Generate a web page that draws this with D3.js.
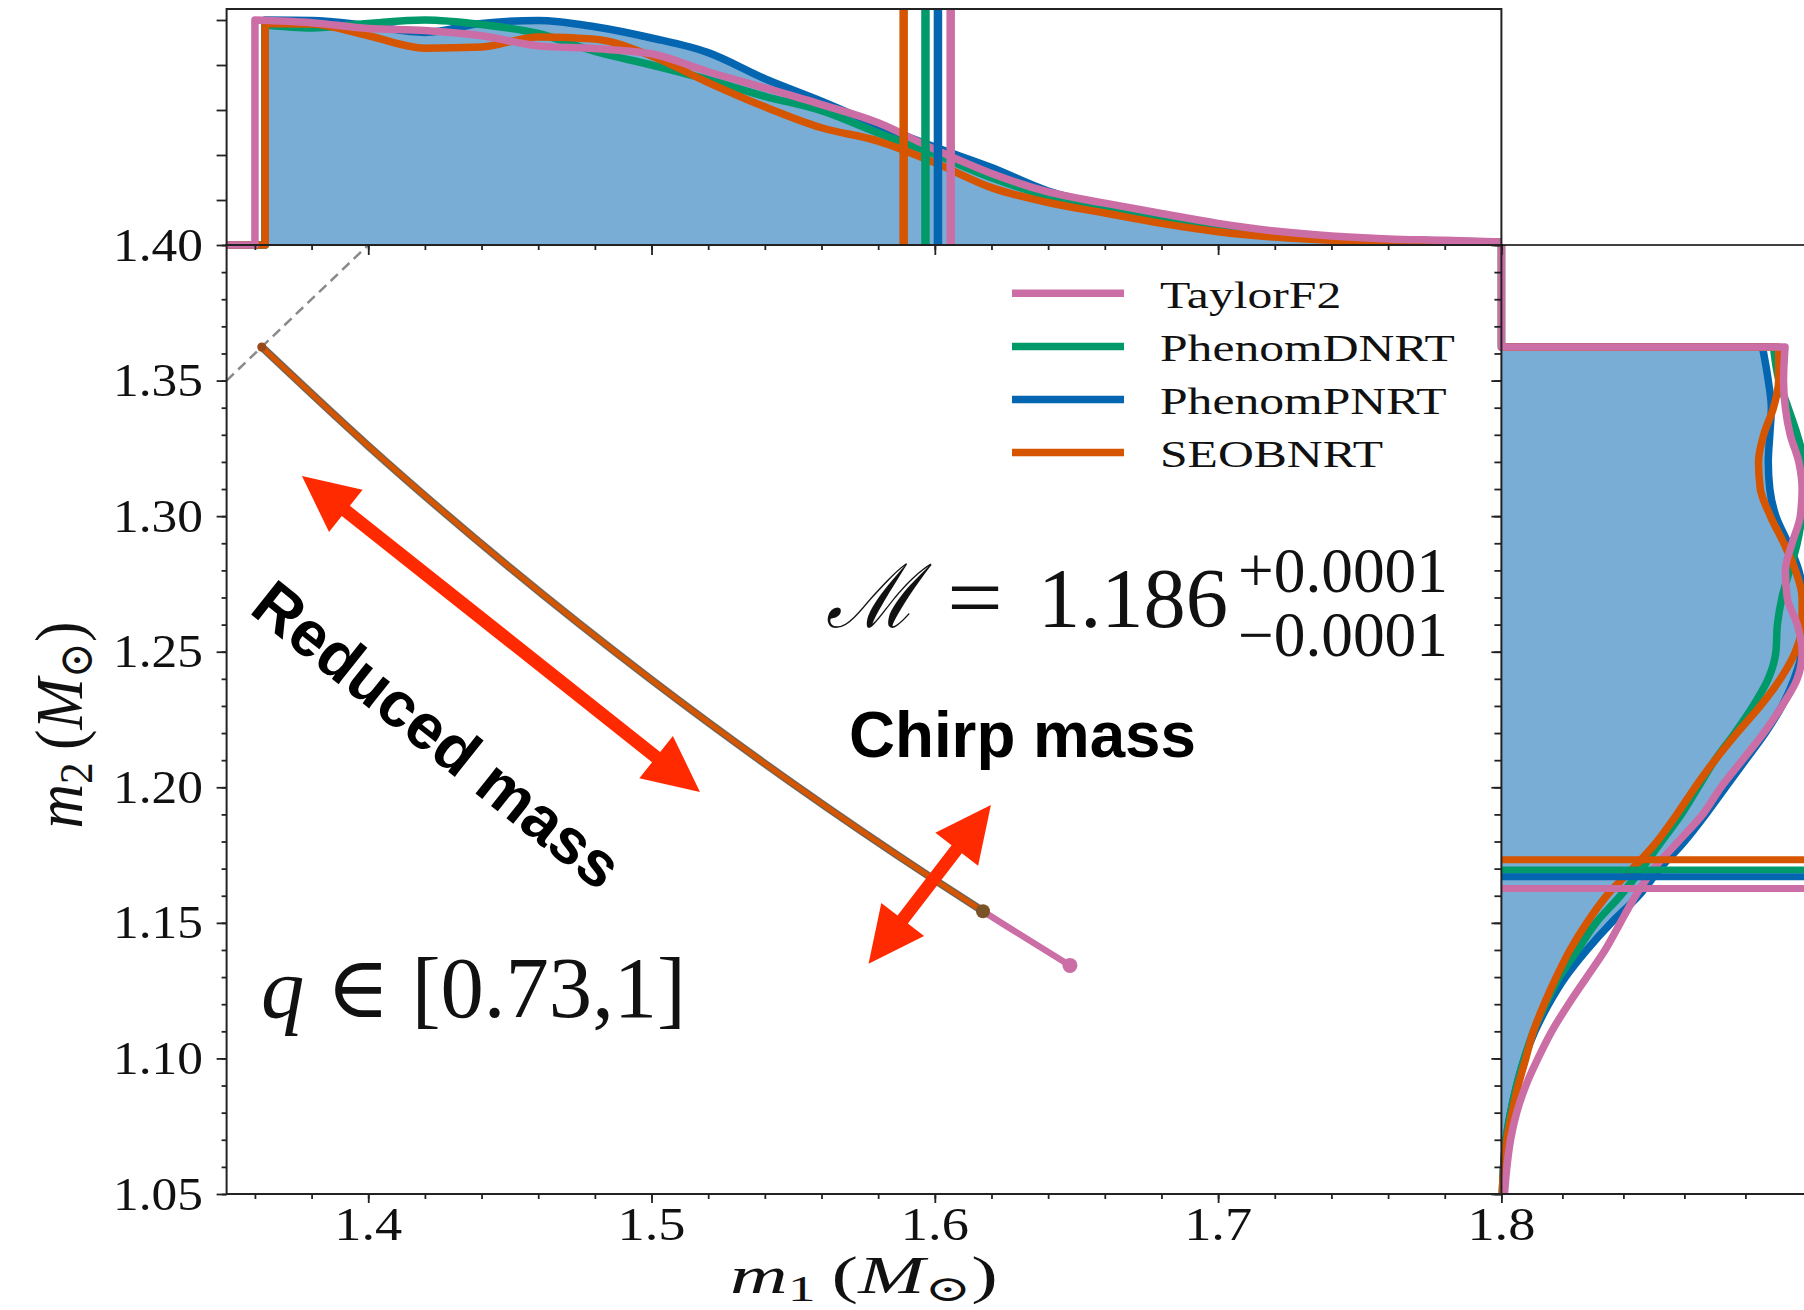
<!DOCTYPE html>
<html>
<head>
<meta charset="utf-8">
<script src="https://cdn.jsdelivr.net/npm/d3@7"></script>
<style>
  body { margin: 0; background: #fff; }
  svg { display: block; }
  .serif { font-family: "Liberation Serif", "DejaVu Serif", serif; fill: #111; }
  .sans { font-family: "Liberation Sans", Arial, sans-serif; font-weight: bold; fill: #000; }
</style>
</head>
<body>
<svg id="fig" width="1804" height="1310"></svg>
<script>
// waveform models, in legend order
var models = ["TaylorF2", "PhenomDNRT", "PhenomPNRT", "SEOBNRT"];
var modelColors = ["#cc6ea6", "#009a6a", "#0466b0", "#d55500"];

// tick labels
var xTicks = [1.4, 1.5, 1.6, 1.7, 1.8];
var yTicks = [1.05, 1.10, 1.15, 1.20, 1.25, 1.30, 1.35, 1.40];

// constant chirp mass track (m1, m2)
var trackM1 = [1.3624, 1.40, 1.45, 1.50, 1.55, 1.60, 1.617, 1.6477];
var trackM2 = [1.3624, 1.3259, 1.2810, 1.2396, 1.2013, 1.1658, 1.1543, 1.1343];
var trackEnd = [1.6477, 1.617, 1.617, 1.617];   // last m1 per model

// 90% bounds per model (m1 upper, m2 lower)
var m1Upper = [1.6056, 1.5967, 1.6011, 1.5890];
var m2Lower = [1.1627, 1.1695, 1.1670, 1.1733];

// marginal of m1 (top panel), normalised
var m1StepAt = [1.3600, 1.3636, 1.3636, 1.3636];
var m1StepTop = [1.000, 0.978, 1.000, 0.985];
var m1Grid = [1.38, 1.40, 1.42, 1.44, 1.46, 1.48, 1.50, 1.52, 1.54, 1.56, 1.58,
              1.60, 1.62, 1.64, 1.66, 1.68, 1.70, 1.72, 1.74, 1.76, 1.78, 1.80];
var m1DensTaylorF2 = [0.988, 0.962, 0.953, 0.930, 0.885, 0.873, 0.850, 0.770, 0.698, 0.624, 0.543,
                      0.425, 0.318, 0.236, 0.186, 0.140, 0.096, 0.062, 0.040, 0.027, 0.021, 0.013];
var m1DensPhenomD = [0.965, 0.985, 1.000, 0.980, 0.940, 0.860, 0.800, 0.735, 0.661, 0.597, 0.498,
                     0.403, 0.299, 0.218, 0.174, 0.122, 0.075, 0.047, 0.025, 0.018, 0.013, 0.012];
var m1DensPhenomP = [0.998, 0.975, 0.945, 0.985, 0.998, 0.970, 0.920, 0.855, 0.739, 0.639, 0.532,
                     0.435, 0.344, 0.240, 0.177, 0.128, 0.081, 0.052, 0.031, 0.022, 0.018, 0.012];
var m1DensSEOB = [0.982, 0.930, 0.875, 0.880, 0.925, 0.915, 0.840, 0.722, 0.614, 0.521, 0.462,
                  0.366, 0.255, 0.189, 0.142, 0.096, 0.059, 0.035, 0.021, 0.015, 0.013, 0.012];

// marginal of m2 (right panel), normalised
var m2StepAt = 1.3624;
var m2StepTop = [0.930, 0.892, 0.856, 0.909];
var m2Grid = [1.35, 1.34, 1.33, 1.32, 1.31, 1.30, 1.29, 1.28, 1.27, 1.26, 1.25, 1.24, 1.23, 1.22, 1.21, 1.20,
              1.19, 1.18, 1.17, 1.16, 1.15, 1.14, 1.13, 1.12, 1.11, 1.10, 1.09, 1.08, 1.07, 1.06, 1.05];
var m2DensTaylorF2 = [0.925, 0.931, 0.947, 0.975, 0.986, 0.980, 0.953, 0.931, 0.937, 0.970, 0.986, 0.970, 0.920, 0.860, 0.790, 0.720,
                      0.660, 0.580, 0.500, 0.440, 0.390, 0.340, 0.280, 0.220, 0.165, 0.120, 0.080, 0.050, 0.030, 0.018, 0.010];
var m2DensPhenomD = [0.910, 0.940, 0.970, 0.990, 0.990, 0.985, 0.970, 0.945, 0.920, 0.905, 0.900, 0.875, 0.825, 0.765, 0.700, 0.645,
                     0.590, 0.525, 0.460, 0.390, 0.310, 0.250, 0.190, 0.145, 0.105, 0.075, 0.050, 0.030, 0.015, 0.007, 0.003];
var m2DensPhenomP = [0.875, 0.885, 0.880, 0.875, 0.880, 0.900, 0.940, 0.975, 0.990, 0.990, 0.985, 0.960, 0.920, 0.865, 0.800, 0.735,
                     0.670, 0.600, 0.520, 0.450, 0.360, 0.280, 0.210, 0.155, 0.110, 0.075, 0.050, 0.030, 0.015, 0.007, 0.003];
var m2DensSEOB = [0.909, 0.892, 0.860, 0.843, 0.849, 0.882, 0.926, 0.964, 0.986, 0.986, 0.964, 0.915, 0.849, 0.772, 0.700, 0.635,
                  0.575, 0.510, 0.430, 0.345, 0.280, 0.225, 0.180, 0.140, 0.105, 0.080, 0.055, 0.035, 0.018, 0.008, 0.003];

var m1Dens = [m1DensTaylorF2, m1DensPhenomD, m1DensPhenomP, m1DensSEOB];
var m2Dens = [m2DensTaylorF2, m2DensPhenomD, m2DensPhenomP, m2DensSEOB];

// annotation arrows, ends in (m1, m2)
var reducedArrow = [[1.3766, 1.3148], [1.5171, 1.1983]];
var chirpArrow = [[1.5766, 1.1349], [1.6198, 1.1935]];

// layout
var plotL = 226.6, plotR = 1501.4, plotT = 245, plotB = 1194, topT = 9, sideR = 1804;
var fillColor = "#7aadd5", arrowRed = "#ff2a00", axisColor = "#222";

var x = d3.scaleLinear().domain([1.35, 1.80]).range([plotL, plotR]);
var y = d3.scaleLinear().domain([1.05, 1.40]).range([plotB, plotT]);
var dTop = d3.scaleLinear().domain([0, 1]).range([plotT, 20]);
var dSide = d3.scaleLinear().domain([0, 1]).range([plotR, plotR + 305]);

var svg = d3.select("#fig");

svg.append("defs").call(function(defs) {
  defs.append("clipPath").attr("id", "clipTop").append("rect")
    .attr("x", plotL).attr("y", 0).attr("width", plotR - plotL).attr("height", plotT + 4);
  defs.append("clipPath").attr("id", "clipSide").append("rect")
    .attr("x", plotR - 4).attr("y", plotT).attr("width", sideR - plotR + 4).attr("height", plotB - plotT);
});

// stretch a text so that it spans the given width
function fitWidth(sel, target) {
  var w = sel.node().getComputedTextLength();
  return target / w;
}

// ---------- top panel: m1 marginals ----------
var gTop = svg.append("g").attr("clip-path", "url(#clipTop)");
var topSmooth = d3.line().x(function(d) { return x(d[0]); }).y(function(d) { return dTop(d[1]); })
    .curve(d3.curveMonotoneX);

function topPath(i) {
  var pts = [[m1StepAt[i], m1StepTop[i]]].concat(m1Grid.map(function(m, k) { return [m, m1Dens[i][k]]; }));
  var head = "M" + x(1.35) + "," + dTop(0) + "L" + x(m1StepAt[i]) + "," + dTop(0);
  return { line: head + topSmooth(pts).replace(/^M/, "L"), pts: pts };
}

// filled area under PhenomPNRT
var fillTop = topPath(2);
gTop.append("path")
  .attr("d", "M" + x(m1StepAt[2]) + "," + dTop(0) + topSmooth(fillTop.pts).replace(/^M/, "L") +
        "L" + x(1.80) + "," + dTop(0) + "Z")
  .attr("fill", fillColor);

[2, 1, 3, 0].forEach(function(i) {
  gTop.append("path").attr("d", topPath(i).line)
    .attr("fill", "none").attr("stroke", modelColors[i]).attr("stroke-width", 7.5)
    .attr("stroke-linejoin", "round");
});
[3, 1, 2, 0].forEach(function(i) {
  gTop.append("line")
    .attr("x1", x(m1Upper[i])).attr("x2", x(m1Upper[i]))
    .attr("y1", topT).attr("y2", plotT)
    .attr("stroke", modelColors[i]).attr("stroke-width", 8.5);
});

// ---------- right panel: m2 marginals ----------
var gSide = svg.append("g").attr("clip-path", "url(#clipSide)");
var sideSmooth = d3.line().x(function(d) { return dSide(d[1]); }).y(function(d) { return y(d[0]); })
    .curve(d3.curveMonotoneY);

function sidePts(i) {
  return [[m2StepAt, m2StepTop[i]]].concat(m2Grid.map(function(m, k) { return [m, m2Dens[i][k]]; }));
}
gSide.append("path")
  .attr("d", "M" + dSide(0) + "," + y(m2StepAt) + sideSmooth(sidePts(2)).replace(/^M/, "L") +
        "L" + dSide(0) + "," + y(1.05) + "Z")
  .attr("fill", fillColor);

[2, 1, 3, 0].forEach(function(i) {
  var head = "M" + dSide(0) + "," + y(1.40) + "L" + dSide(0) + "," + y(m2StepAt);
  gSide.append("path").attr("d", head + sideSmooth(sidePts(i)).replace(/^M/, "L"))
    .attr("fill", "none").attr("stroke", modelColors[i]).attr("stroke-width", 7.5)
    .attr("stroke-linejoin", "round");
});
[3, 1, 2, 0].forEach(function(i) {
  gSide.append("line")
    .attr("x1", plotR).attr("x2", sideR)
    .attr("y1", y(m2Lower[i])).attr("y2", y(m2Lower[i]))
    .attr("stroke", modelColors[i]).attr("stroke-width", 7);
});

// ---------- main panel ----------
// equal mass line
svg.append("line")
  .attr("x1", x(1.35)).attr("y1", y(1.35)).attr("x2", x(1.40)).attr("y2", y(1.40))
  .attr("stroke", "#8a8a8a").attr("stroke-width", 2.5).attr("stroke-dasharray", "10,6");

var trackPts = trackM1.map(function(m, k) { return [m, trackM2[k]]; });
var trackLine = d3.line().x(function(d) { return x(d[0]); }).y(function(d) { return y(d[1]); })
    .curve(d3.curveMonotoneX);
function trackUpTo(end) { return trackPts.filter(function(d) { return d[0] <= end + 1e-9; }); }

svg.append("path").attr("d", trackLine(trackUpTo(trackEnd[0])))
  .attr("fill", "none").attr("stroke", modelColors[0]).attr("stroke-width", 6.5);
svg.append("path").attr("d", trackLine(trackUpTo(trackEnd[3])))
  .attr("fill", "none").attr("stroke", "#5b4a36").attr("stroke-width", 8).attr("stroke-opacity", 0.75);
[1, 2, 3].forEach(function(i) {
  svg.append("path").attr("d", trackLine(trackUpTo(trackEnd[i])))
    .attr("fill", "none").attr("stroke", modelColors[i]).attr("stroke-width", 5.5);
});
svg.append("circle").attr("cx", x(trackEnd[0])).attr("cy", y(trackM2[trackM2.length - 1]))
  .attr("r", 7.5).attr("fill", modelColors[0]);
svg.append("circle").attr("cx", x(trackEnd[3])).attr("cy", y(trackM2[trackM2.length - 2]))
  .attr("r", 7).attr("fill", "#7a5426");
svg.append("circle").attr("cx", x(trackM1[0])).attr("cy", y(trackM2[0]))
  .attr("r", 4.5).attr("fill", "#9a4a18");

// ---------- axes ----------
function styleAxis(g) {
  g.select(".domain").remove();
  g.selectAll(".tick line").attr("stroke", axisColor).attr("stroke-width", 1.8);
  g.selectAll(".tick text").remove();
}
function stepTicks(lo, hi, step) {
  return d3.range(Math.round((hi - lo) / step) + 1).map(function(k) { return +(lo + k * step).toFixed(4); });
}
var yMinor = stepTicks(1.05, 1.40, 0.01);
var xMinor = stepTicks(1.36, 1.80, 0.02);

// left (outward)
svg.append("g").attr("transform", "translate(" + plotL + ",0)")
  .call(d3.axisLeft(y).tickValues(yMinor).tickSize(5)).call(styleAxis);
svg.append("g").attr("transform", "translate(" + plotL + ",0)")
  .call(d3.axisLeft(y).tickValues(yTicks).tickSize(10)).call(styleAxis);
// right of main (inward)
svg.append("g").attr("transform", "translate(" + plotR + ",0)")
  .call(d3.axisLeft(y).tickValues(yMinor).tickSize(7)).call(styleAxis);
svg.append("g").attr("transform", "translate(" + plotR + ",0)")
  .call(d3.axisLeft(y).tickValues(yTicks).tickSize(10)).call(styleAxis);
// bottom (outward)
svg.append("g").attr("transform", "translate(0," + plotB + ")")
  .call(d3.axisBottom(x).tickValues(xMinor).tickSize(5)).call(styleAxis);
svg.append("g").attr("transform", "translate(0," + plotB + ")")
  .call(d3.axisBottom(x).tickValues(xTicks).tickSize(9)).call(styleAxis);
// top of main (inward)
svg.append("g").attr("transform", "translate(0," + plotT + ")")
  .call(d3.axisBottom(x).tickValues(xMinor).tickSize(5)).call(styleAxis);
svg.append("g").attr("transform", "translate(0," + plotT + ")")
  .call(d3.axisBottom(x).tickValues(xTicks).tickSize(10)).call(styleAxis);
// density ticks of the marginals
svg.append("g").attr("transform", "translate(" + plotL + ",0)")
  .call(d3.axisLeft(dTop).tickValues([0.2, 0.4, 0.6, 0.8, 1.0]).tickSize(10)).call(styleAxis);
svg.append("g").attr("transform", "translate(0," + plotB + ")")
  .call(d3.axisBottom(dSide).tickValues([0.2, 0.4, 0.6, 0.8, 1.0]).tickSize(5)).call(styleAxis);

// frames
var frame = svg.append("g").attr("fill", "none").attr("stroke", axisColor).attr("stroke-width", 2);
frame.append("path").attr("d", "M" + plotL + "," + plotT + "V" + topT + "H" + plotR + "V" + plotT);
frame.append("rect").attr("x", plotL).attr("y", plotT).attr("width", plotR - plotL).attr("height", plotB - plotT);
frame.append("path").attr("d", "M" + plotR + "," + plotT + "H" + sideR).attr("stroke", "#000").attr("stroke-width", 1.6);
frame.append("path").attr("d", "M" + plotR + "," + plotB + "H" + sideR);

// tick labels
var probeY = svg.append("text").attr("class", "serif").attr("font-size", 46).text("1.40");
var sxY = fitWidth(probeY, 90);
probeY.remove();
svg.selectAll(".ylab").data(yTicks).join("text")
  .attr("class", "serif ylab").attr("font-size", 46).attr("text-anchor", "end")
  .attr("transform", function(d) { return "translate(203," + (y(d) + 15.5) + ") scale(" + sxY + ",1)"; })
  .text(d3.format(".2f"));

var probeX = svg.append("text").attr("class", "serif").attr("font-size", 46).text("1.4");
var sxX = fitWidth(probeX, 68);
probeX.remove();
svg.selectAll(".xlab").data(xTicks).join("text")
  .attr("class", "serif xlab").attr("font-size", 46).attr("text-anchor", "middle")
  .attr("transform", function(d) { return "translate(" + x(d) + ",1240) scale(" + sxX + ",1)"; })
  .text(d3.format(".1f"));

// axis titles
function massLabel(g, idx) {
  g.append("tspan").attr("font-style", "italic").text("m");
  g.append("tspan").attr("font-size", "0.7em").attr("dy", 8).text(idx);
  g.append("tspan").attr("dy", -8).text("\u2009(");
  g.append("tspan").attr("font-style", "italic").text("M");
  g.append("tspan").attr("font-size", "0.7em").attr("dy", 8).text("\u2299");
  g.append("tspan").attr("dy", -8).text(")");
}
var xTitle = svg.append("text").attr("class", "serif").attr("font-size", 52).attr("text-anchor", "middle");
massLabel(xTitle, "1");
xTitle.attr("transform", "translate(" + ((plotL + plotR) / 2) + ",1293) scale(" + fitWidth(xTitle, 268) + ",1)");

var yTitle = svg.append("text").attr("class", "serif").attr("font-size", 52).attr("text-anchor", "middle");
massLabel(yTitle, "2");
yTitle.attr("transform", "translate(82,725) scale(1.3,1) rotate(-90) scale(" + fitWidth(yTitle, 207) + ",1)");

// legend
var legend = svg.append("g");
var legendSx = null;
models.forEach(function(name, i) {
  var ly = 293.3 + i * 53.1;
  legend.append("line").attr("x1", 1012).attr("x2", 1124).attr("y1", ly).attr("y2", ly)
    .attr("stroke", modelColors[i]).attr("stroke-width", 7.5);
  var t = legend.append("text").attr("class", "serif").attr("font-size", 39).text(name);
  if (legendSx === null) {
    var probe = legend.append("text").attr("class", "serif").attr("font-size", 39).text("PhenomDNRT");
    legendSx = fitWidth(probe, 295);
    probe.remove();
  }
  t.attr("transform", "translate(1160," + (ly + 14.5) + ") scale(" + legendSx + ",1)");
});

// ---------- annotations ----------
function doubleArrow(ends) {
  var p1 = [x(ends[0][0]), y(ends[0][1])], p2 = [x(ends[1][0]), y(ends[1][1])];
  var dx = p2[0] - p1[0], dy = p2[1] - p1[1], len = Math.hypot(dx, dy);
  var u = [dx / len, dy / len], n = [-u[1], u[0]];
  var L = 56, hw = 27, sw = 6.5;
  function pt(base, a, b) { return [base[0] + u[0] * a + n[0] * b, base[1] + u[1] * a + n[1] * b]; }
  var poly = [p1, pt(p1, L, hw), pt(p1, L, sw), pt(p2, -L, sw), pt(p2, -L, hw), p2,
              pt(p2, -L, -hw), pt(p2, -L, -sw), pt(p1, L, -sw), pt(p1, L, -hw)];
  svg.append("polygon").attr("points", poly.map(function(p) { return p.join(","); }).join(" "))
    .attr("fill", arrowRed);
}
doubleArrow(reducedArrow);
doubleArrow(chirpArrow);

var reduced = svg.append("text").attr("class", "sans").attr("font-size", 64)
  .attr("text-anchor", "middle").attr("dy", "0.36em").text("Reduced mass");
reduced.attr("transform", "translate(438,734) rotate(38.6) scale(" + fitWidth(reduced, 450) + ",1)");

var chirp = svg.append("text").attr("class", "sans").attr("font-size", 65).text("Chirp mass");
chirp.attr("transform", "translate(849,757) scale(" + fitWidth(chirp, 347) + ",1)");

var qText = svg.append("text").attr("class", "serif").attr("font-size", 86).attr("fill", "#000");
qText.append("tspan").attr("font-style", "italic").text("q");
qText.append("tspan").text(" \u2208 [0.73,1]");
qText.attr("transform", "translate(261,1017) scale(" + fitWidth(qText, 425) + ",1)");

var mc = svg.append("text").attr("class", "serif").attr("font-size", 88).attr("font-style", "italic").text("\u2133");
mc.attr("transform", "translate(826,627) scale(" + fitWidth(mc, 92) + ",1)");
var eq = svg.append("text").attr("class", "serif").attr("font-size", 88).text("=");
eq.attr("transform", "translate(947,627) scale(" + fitWidth(eq, 56) + ",1)");
var mcVal = svg.append("text").attr("class", "serif").attr("font-size", 85).text("1.186");
mcVal.attr("transform", "translate(1038,627) scale(" + fitWidth(mcVal, 190) + ",1)");
var sup = svg.append("text").attr("class", "serif").attr("font-size", 63).text("+0.0001");
sup.attr("transform", "translate(1238,592) scale(" + fitWidth(sup, 210) + ",1)");
var sub = svg.append("text").attr("class", "serif").attr("font-size", 63).text("\u22120.0001");
sub.attr("transform", "translate(1238,656) scale(" + fitWidth(sub, 210) + ",1)");
</script>
</body>
</html>
